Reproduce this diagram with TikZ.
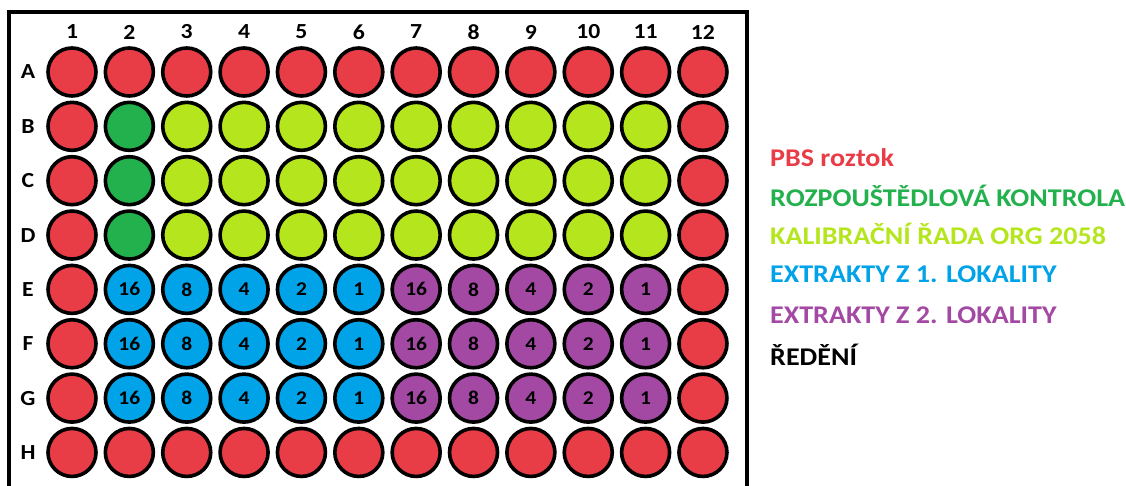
\documentclass[tikz,border=0pt]{standalone}
\usepackage{fontspec}
\setmainfont{Carlito}
\newfontfamily\widefont[FakeStretch=1.1]{Carlito}
\definecolor{pbsred}{HTML}{E83C47}
\definecolor{solgreen}{HTML}{22B14C}
\definecolor{calib}{HTML}{B5E61D}
\definecolor{extA}{HTML}{00A2E8}
\definecolor{extB}{HTML}{A349A4}
\tikzset{
  well/.style={circle, draw=black, line width=3.6pt, minimum size=48pt, inner sep=0pt,
    font=\widefont\fontsize{19.5}{22}\selectfont\bfseries},
  red/.style={well, fill=pbsred},
  grn/.style={well, fill=solgreen},
  lim/.style={well, fill=calib},
  blu/.style={well, fill=extA},
  pur/.style={well, fill=extB},
  lab/.style={font=\widefont\fontsize{21.5}{24}\selectfont\bfseries, inner sep=0pt},
  leg/.style={font=\widefont\fontsize{25.5}{28}\selectfont\bfseries, anchor=west, inner sep=0pt},
}
\begin{document}
\begin{tikzpicture}[x=1pt,y=-1pt]
\useasboundingbox (0,0) rectangle (1126,486);
\draw[line width=4pt] (8.5,12) -- (746.5,12) -- (746.5,500) -- (8.5,500) -- cycle;
\def\colx#1{72+57.36*(#1-1)}
\def\rowy#1{72+54.35*#1}
% column labels
\foreach \c in {1,...,12}{
  \node[lab] (c\c) at ({\colx{\c}},32) {\c};
}
% row labels
\foreach \r [count=\i from 0] in {A,B,C,D,E,F,G,H}{
  \node[lab] (r\r) at (28,{\rowy{\i}}) {\r};
}
% rows A and H
\foreach \r/\i in {A/0,H/7}{
  \foreach \c in {1,...,12}{
    \node[red] (w\r\c) at ({\colx{\c}},{\rowy{\i}}) {};
  }
}
% rows B-D
\foreach \r/\i in {B/1,C/2,D/3}{
  \node[red] (w\r1) at ({\colx{1}},{\rowy{\i}}) {};
  \node[grn] (w\r2) at ({\colx{2}},{\rowy{\i}}) {};
  \foreach \c in {3,...,11}{
    \node[lim] (w\r\c) at ({\colx{\c}},{\rowy{\i}}) {};
  }
  \node[red] (w\r12) at ({\colx{12}},{\rowy{\i}}) {};
}
% rows E-G
\foreach \r/\i in {E/4,F/5,G/6}{
  \node[red] (w\r1) at ({\colx{1}},{\rowy{\i}}) {};
  \foreach \c/\d in {2/16,3/8,4/4,5/2,6/1}{
    \node[blu] (w\r\c) at ({\colx{\c}},{\rowy{\i}}) {\d};
  }
  \foreach \c/\d in {7/16,8/8,9/4,10/2,11/1}{
    \node[pur] (w\r\c) at ({\colx{\c}},{\rowy{\i}}) {\d};
  }
  \node[red] (w\r12) at ({\colx{12}},{\rowy{\i}}) {};
}
% legend
\node[leg, text=pbsred] (l1) at (770,158) {PBS roztok};
\node[leg, text=solgreen] (l2) at (770,196) {ROZPOUŠTĚDLOVÁ KONTROLA};
\node[leg, text=calib] (l3) at (770,234) {KALIBRAČNÍ ŘADA ORG 2058};
\node[leg, text=extA] (l4) at (770,274) {EXTRAKTY Z 1. LOKALITY};
\node[leg, text=extB] (l5) at (770,315) {EXTRAKTY Z 2. LOKALITY};
\node[leg, text=black] (l6) at (770,355) {ŘEDĚNÍ};
\end{tikzpicture}
\end{document}
